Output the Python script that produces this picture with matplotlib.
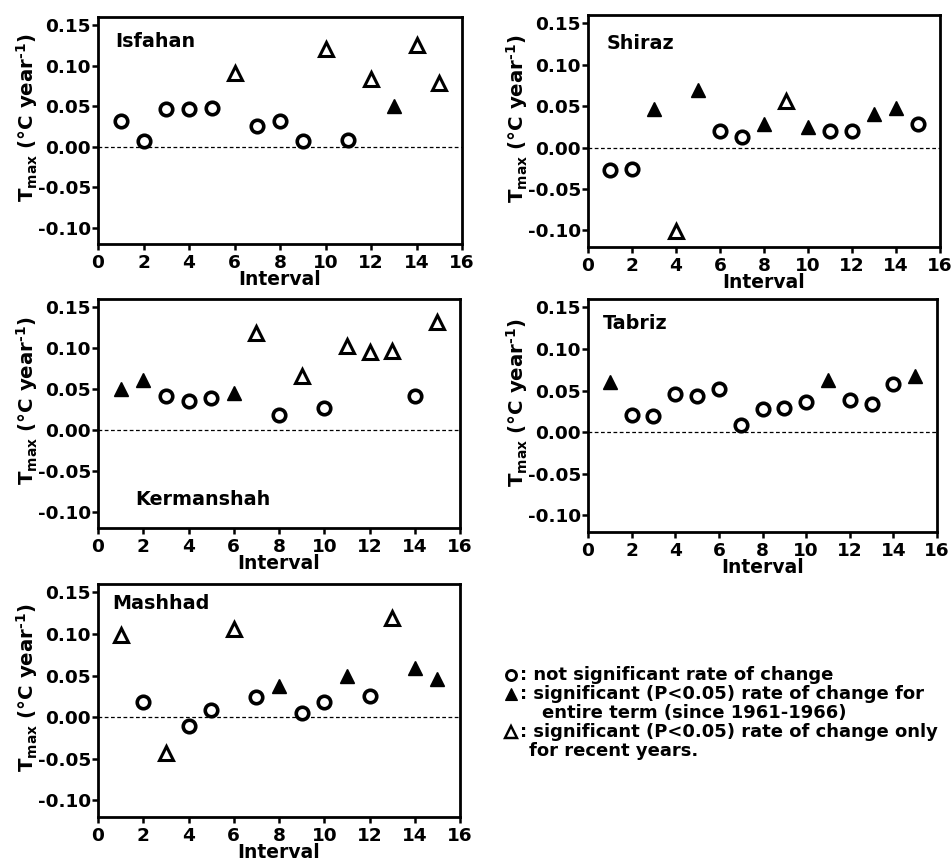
import numpy as np
import matplotlib
matplotlib.use("Agg")
import matplotlib.pyplot as plt
from matplotlib.lines import Line2D

plt.rcParams['font.family'] = ['DejaVu Sans']
plt.rcParams['font.weight'] = 'bold'
plt.rcParams['mathtext.fontset'] = 'custom'
plt.rcParams['mathtext.rm'] = 'DejaVu Sans:bold'
plt.rcParams['mathtext.it'] = 'DejaVu Sans:bold'
plt.rcParams['mathtext.bf'] = 'DejaVu Sans:bold'
plt.rcParams['mathtext.default'] = 'rm'

intervals = np.arange(1, 16)

# o = not significant, f = significant whole term, t = significant recent years only
isfahan = [0.032, 0.007, 0.046, 0.046, 0.048, 0.091, 0.026, 0.032, 0.007, 0.120,
           0.008, 0.084, 0.050, 0.125, 0.078]
isfahan_sig = ['o', 'o', 'o', 'o', 'o', 't', 'o', 'o', 'o', 't', 'o', 't', 'f', 't', 't']

shiraz = [-0.027, -0.026, 0.046, -0.101, 0.070, 0.020, 0.013, 0.029, 0.056, 0.025,
          0.020, 0.020, 0.041, 0.048, 0.028]
shiraz_sig = ['o', 'o', 'f', 't', 'f', 'o', 'o', 'f', 't', 'f', 'o', 'o', 'f', 'f', 'o']

kermanshah = [0.050, 0.061, 0.041, 0.035, 0.039, 0.045, 0.118, 0.018, 0.066, 0.027,
              0.102, 0.095, 0.097, 0.042, 0.132]
kermanshah_sig = ['f', 'f', 'o', 'o', 'o', 'f', 't', 'o', 't', 'o', 't', 't', 't', 'o', 't']

tabriz = [0.060, 0.021, 0.019, 0.046, 0.044, 0.052, 0.008, 0.028, 0.029, 0.036,
          0.063, 0.039, 0.034, 0.058, 0.068]
tabriz_sig = ['f', 'o', 'o', 'o', 'o', 'o', 'o', 'o', 'o', 'o', 'f', 'o', 'o', 'o', 'f']

mashhad = [0.099, 0.018, -0.043, -0.011, 0.008, 0.106, 0.024, 0.037, 0.005, 0.018,
           0.050, 0.025, 0.119, 0.059, 0.046]
mashhad_sig = ['t', 'o', 't', 'o', 'o', 't', 'o', 'f', 'o', 'o', 'f', 'o', 't', 'f', 'f']

# name, values, significance, name offset (px from axes top-left, top of text)
stations = [
    ('Isfahan', isfahan, isfahan_sig, (17, 15)),
    ('Shiraz', shiraz, shiraz_sig, (19, 19)),
    ('Kermanshah', kermanshah, kermanshah_sig, (37, 191)),
    ('Tabriz', tabriz, tabriz_sig, (15, 15)),
    ('Mashhad', mashhad, mashhad_sig, (14, 10)),
]

# axes boxes in pixels: left, top, right, bottom
boxes = [(98, 17, 462, 244), (588, 15, 940, 247),
         (98, 299, 460, 528), (588, 299, 937, 532),
         (98, 584, 460, 817)]

W, H = 951, 866
fig = plt.figure(figsize=(W / 100, H / 100), dpi=100)

styles = {
    'o': dict(marker='o', markersize=9, markerfacecolor='white', markeredgecolor='black', markeredgewidth=2.6),
    'f': dict(marker='^', markersize=10, markerfacecolor='black', markeredgecolor='black', markeredgewidth=1),
    't': dict(marker='^', markersize=10, markerfacecolor='white', markeredgecolor='black', markeredgewidth=2.2),
}

for (name, vals, sig, (dx, dy)), (l, t, r, b) in zip(stations, boxes):
    ax = fig.add_axes([l / W, 1 - b / H, (r - l) / W, (b - t) / H])
    vals = np.array(vals)
    sig = np.array(sig)
    ax.axhline(0, color='black', lw=0.9, ls=(0, (3, 2)), zorder=1)
    for key, st in styles.items():
        m = sig == key
        ax.plot(intervals[m], vals[m], ls='none', zorder=3, **st)
    ax.set_xlim(0, 16)
    ax.set_ylim(-0.12, 0.16)
    ax.set_xticks(np.arange(0, 17, 2))
    ax.set_yticks([-0.10, -0.05, 0.0, 0.05, 0.10, 0.15])
    ax.set_yticklabels(['-0.10', '-0.05', '0.00', '0.05', '0.10', '0.15'])
    ax.tick_params(direction='out', length=4, width=1.8, labelsize=13.3)
    ax.tick_params(axis='y', pad=1)
    ax.tick_params(axis='x', pad=3)
    for s in ax.spines.values():
        s.set_linewidth(2)
    ax.set_xlabel('Interval', fontsize=13.5, fontweight='bold', labelpad=-1)
    ax.set_ylabel(r'T$_{max}$ (°C year$^{\text{-}1}$)', fontsize=14.2, fontweight='bold')
    ax.yaxis.set_label_coords(-58 / (r - l), 0.555)
    ax.text(dx / (r - l), 1 - dy / (b - t), name, transform=ax.transAxes, fontsize=13.8,
            fontweight='bold', va='top', ha='left')

# legend block
legend_rows = [
    ('o', 675, 520, ': not significant rate of change'),
    ('f', 694, 520, ': significant (P<0.05) rate of change for'),
    (None, 713, 542, 'entire term (since 1961-1966)'),
    ('t', 732, 520, ': significant (P<0.05) rate of change only'),
    (None, 751, 529, 'for recent years.'),
]
for key, y, x, txt in legend_rows:
    if key is not None:
        st = dict(styles[key])
        st['markersize'] = st['markersize'] * 0.8
        st['markeredgewidth'] = st['markeredgewidth'] * 0.8
        fig.add_artist(Line2D([511 / W], [1 - y / H], transform=fig.transFigure, ls='none', **st))
    fig.text(x / W, 1 - y / H, txt, fontsize=13, fontweight='bold', va='center', ha='left')

fig.savefig('out.png', dpi=100)
